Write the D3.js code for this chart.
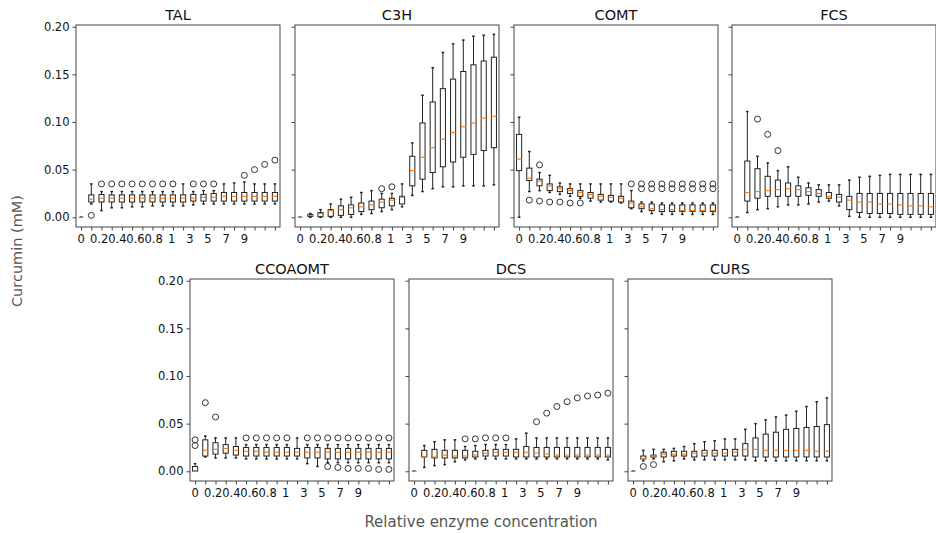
<!DOCTYPE html>
<html>
<head>
<meta charset="utf-8">
<script src="https://cdn.jsdelivr.net/npm/d3@7"></script>
<style>
  body { margin: 0; background: #fff; }
  text { font-family: "DejaVu Sans", sans-serif; }
</style>
</head>
<body>
<div id="root"></div>
<script>
// categories (relative enzyme concentration) and shown tick labels
const concentrations = [0, 0.1, 0.2, 0.3, 0.4, 0.5, 0.6, 0.7, 0.8, 0.9, 1, 2, 3, 4, 5, 6, 7, 8, 9, 10];
const tickLabels = ["0", "0.2", "0.4", "0.6", "0.8", "1", "3", "5", "7", "9"];
const yTicks = [0, 0.05, 0.10, 0.15, 0.20];

// box stats per concentration: [whisker low, q1, median, q3, whisker high]
const TAL = [
  [0,0,0,0,0], [0.014,0.016,0.019,0.0235,0.035], [0.007,0.016,0.020,0.024,0.027],
  [0.010,0.016,0.020,0.0235,0.027], [0.010,0.016,0.020,0.0235,0.027], [0.011,0.016,0.020,0.0235,0.027],
  [0.011,0.016,0.020,0.0235,0.027], [0.012,0.016,0.020,0.0235,0.027], [0.012,0.016,0.020,0.0235,0.027],
  [0.012,0.016,0.020,0.0235,0.027], [0.012,0.016,0.020,0.0235,0.035], [0.013,0.017,0.020,0.024,0.027],
  [0.014,0.017,0.021,0.024,0.028], [0.014,0.017,0.021,0.025,0.028], [0.014,0.017,0.022,0.026,0.035],
  [0.014,0.017,0.022,0.026,0.036], [0.014,0.017,0.022,0.026,0.037], [0.014,0.017,0.022,0.026,0.035],
  [0.014,0.017,0.022,0.026,0.035], [0.014,0.017,0.022,0.026,0.035]
];
const TAL_OUT = [[], [0.002], [0.035], [0.035], [0.035], [0.035], [0.035], [0.035], [0.035], [0.035],
  [], [0.035], [0.035], [0.035], [], [], [0.044], [0.050], [0.0555], [0.060]];

const C3H = [
  [0,0,0,0,0], [0.000,0.001,0.002,0.003,0.004], [0.000,0.0005,0.004,0.005,0.008],
  [0.000,0.001,0.007,0.008,0.014], [0.000,0.002,0.008,0.012,0.019], [0.000,0.003,0.010,0.013,0.021],
  [0.003,0.006,0.011,0.015,0.026], [0.004,0.008,0.013,0.017,0.028], [0.006,0.010,0.016,0.019,0.025],
  [0.008,0.012,0.018,0.020,0.025], [0.011,0.014,0.021,0.022,0.035], [0.023,0.033,0.049,0.064,0.078],
  [0.027,0.040,0.063,0.099,0.128], [0.030,0.047,0.073,0.121,0.157], [0.032,0.053,0.082,0.135,0.173],
  [0.032,0.058,0.089,0.145,0.182], [0.033,0.063,0.095,0.153,0.186], [0.033,0.066,0.099,0.160,0.190],
  [0.033,0.070,0.104,0.164,0.191], [0.034,0.073,0.106,0.168,0.192]
];
const C3H_OUT = [[], [], [], [], [], [], [], [], [0.030], [0.032], [], [], [], [], [], [], [], [], [], []];

const COMT = [
  [0.000,0.049,0.061,0.087,0.105], [0.027,0.0386,0.041,0.0516,0.069], [0.028,0.033,0.038,0.040,0.047],
  [0.026,0.028,0.033,0.035,0.044], [0.024,0.027,0.030,0.032,0.036], [0.022,0.025,0.028,0.030,0.035],
  [0.020,0.022,0.026,0.028,0.035], [0.017,0.020,0.024,0.026,0.035], [0.016,0.018,0.022,0.024,0.035],
  [0.016,0.017,0.021,0.023,0.035], [0.015,0.016,0.020,0.022,0.035], [0.009,0.010,0.015,0.017,0.028],
  [0.006,0.009,0.011,0.014,0.016], [0.004,0.007,0.009,0.014,0.016], [0.003,0.006,0.008,0.013,0.015],
  [0.003,0.006,0.008,0.013,0.015], [0.003,0.006,0.007,0.013,0.015], [0.003,0.006,0.007,0.013,0.015],
  [0.003,0.006,0.007,0.013,0.015], [0.003,0.006,0.007,0.013,0.015]
];
const COMT_OUT = [[], [0.018], [0.055, 0.017], [0.016], [0.016], [0.015], [0.015], [], [], [], [],
  [0.035], [0.030, 0.035], [0.030, 0.035], [0.030, 0.035], [0.030, 0.035], [0.030, 0.035],
  [0.030, 0.035], [0.030, 0.035], [0.030, 0.035]];

const FCS = [
  [0,0,0,0,0], [0.005,0.017,0.026,0.059,0.111], [0.008,0.020,0.027,0.051,0.064],
  [0.009,0.022,0.028,0.043,0.057], [0.011,0.022,0.029,0.039,0.049], [0.013,0.022,0.030,0.036,0.053],
  [0.013,0.022,0.029,0.033,0.042], [0.014,0.023,0.027,0.031,0.036], [0.016,0.022,0.025,0.029,0.034],
  [0.017,0.020,0.022,0.026,0.034], [0.012,0.016,0.021,0.024,0.034], [0.001,0.008,0.018,0.022,0.039],
  [0.000,0.005,0.016,0.025,0.042], [0.000,0.004,0.016,0.025,0.043], [0.000,0.004,0.014,0.025,0.044],
  [0.000,0.004,0.014,0.025,0.045], [0.000,0.003,0.013,0.025,0.045], [0.000,0.003,0.012,0.025,0.045],
  [0.000,0.003,0.012,0.025,0.045], [0.000,0.003,0.011,0.025,0.045]
];
const FCS_OUT = [[], [], [0.103], [0.087], [0.070], [], [], [], [], [], [], [], [], [], [], [], [], [], [], []];

const CCOAOMT = [
  [0.000,0.000,0.000,0.005,0.008], [0.015,0.016,0.022,0.033,0.037], [0.014,0.018,0.023,0.030,0.035],
  [0.014,0.019,0.024,0.028,0.035], [0.014,0.017,0.022,0.026,0.035], [0.013,0.016,0.021,0.025,0.028],
  [0.013,0.016,0.021,0.025,0.028], [0.013,0.016,0.020,0.025,0.028], [0.013,0.016,0.020,0.025,0.028],
  [0.013,0.016,0.020,0.025,0.028], [0.013,0.016,0.020,0.024,0.035], [0.008,0.014,0.020,0.025,0.028],
  [0.005,0.014,0.020,0.025,0.028], [0.009,0.013,0.020,0.024,0.028], [0.009,0.013,0.020,0.024,0.028],
  [0.009,0.013,0.020,0.024,0.028], [0.009,0.013,0.020,0.024,0.028], [0.009,0.013,0.020,0.024,0.028],
  [0.009,0.013,0.020,0.024,0.028], [0.009,0.013,0.020,0.024,0.028]
];
const CCOAOMT_OUT = [[0.027, 0.033], [0.072], [0.057], [], [], [0.035], [0.035], [0.035], [0.035], [0.035],
  [], [0.035], [0.035], [0.035, 0.005], [0.035, 0.004], [0.035, 0.003], [0.035, 0.003],
  [0.035, 0.003], [0.035, 0.002], [0.035, 0.002]];

const DCS = [
  [0,0,0,0,0], [0.004,0.015,0.015,0.022,0.027], [0.006,0.014,0.015,0.023,0.031],
  [0.007,0.014,0.017,0.022,0.033], [0.010,0.014,0.016,0.022,0.033], [0.012,0.014,0.016,0.022,0.026],
  [0.013,0.015,0.017,0.021,0.027], [0.013,0.016,0.019,0.022,0.028], [0.013,0.016,0.020,0.023,0.028],
  [0.013,0.016,0.020,0.023,0.028], [0.013,0.015,0.020,0.023,0.034], [0.013,0.015,0.020,0.026,0.040],
  [0.013,0.015,0.019,0.025,0.035], [0.013,0.015,0.018,0.025,0.035], [0.013,0.015,0.017,0.025,0.035],
  [0.013,0.015,0.017,0.025,0.035], [0.013,0.015,0.017,0.025,0.035], [0.013,0.015,0.017,0.025,0.035],
  [0.013,0.015,0.017,0.025,0.035], [0.012,0.015,0.017,0.025,0.035]
];
const DCS_OUT = [[], [], [], [], [], [0.034], [0.034], [0.035], [0.035], [0.035], [], [],
  [0.052], [0.061], [0.068], [0.073], [0.077], [0.079], [0.080], [0.082]];

const CURS = [
  [0,0,0,0,0], [0.011,0.013,0.013,0.016,0.022], [0.013,0.015,0.016,0.017,0.023],
  [0.010,0.015,0.018,0.020,0.023], [0.011,0.016,0.018,0.021,0.024], [0.013,0.016,0.018,0.021,0.026],
  [0.012,0.015,0.019,0.021,0.029], [0.012,0.016,0.019,0.022,0.031], [0.012,0.016,0.019,0.022,0.032],
  [0.012,0.016,0.019,0.023,0.034], [0.012,0.016,0.020,0.023,0.034], [0.012,0.016,0.023,0.029,0.044],
  [0.011,0.015,0.023,0.035,0.050], [0.011,0.015,0.022,0.039,0.054], [0.011,0.015,0.022,0.041,0.057],
  [0.011,0.015,0.022,0.044,0.059], [0.011,0.015,0.022,0.045,0.063], [0.011,0.015,0.022,0.046,0.068],
  [0.011,0.015,0.021,0.047,0.073], [0.011,0.015,0.021,0.049,0.077]
];
const CURS_OUT = [[], [0.005], [0.007], [], [], [], [], [], [], [], [], [], [], [], [], [], [], [], [], []];

// layout
const W = 936, H = 534;
const pw = 204, ph = 202;
const panels = [
  {name: "TAL", stats: TAL, out: TAL_OUT, left: 76, top: 25, yLabels: true},
  {name: "C3H", stats: C3H, out: C3H_OUT, left: 295, top: 25, yLabels: false},
  {name: "COMT", stats: COMT, out: COMT_OUT, left: 514, top: 25, yLabels: false},
  {name: "FCS", stats: FCS, out: FCS_OUT, left: 732, top: 25, yLabels: false},
  {name: "CCOAOMT", stats: CCOAOMT, out: CCOAOMT_OUT, left: 190, top: 279, yLabels: true},
  {name: "DCS", stats: DCS, out: DCS_OUT, left: 409, top: 279, yLabels: false},
  {name: "CURS", stats: CURS, out: CURS_OUT, left: 628, top: 279, yLabels: false}
];

const svg = d3.select("#root").append("svg")
    .attr("width", W)
    .attr("height", H);

// scales (same for every panel)
const x = d3.scaleLinear().domain([0.5, concentrations.length + 0.5]).range([0, pw]);
const y = d3.scaleLinear().domain([-0.0102, 0.2018]).range([ph, 0]);
// tick labels are spread evenly from the first box to box 17
const xLab = d3.scaleLinear().domain([0, tickLabels.length - 1]).range([x(1), x(17)]);
const boxW = x(1.25) - x(0.75);
const capW = boxW / 2;

panels.forEach((p) => {
    let g = svg.append("g")
        .attr("transform", "translate(" + p.left + "," + p.top + ")");

    // title
    g.append("text")
        .attr("x", pw / 2).attr("y", -5)
        .attr("text-anchor", "middle")
        .style("font-size", "14.5px")
        .attr("fill", "#111")
        .text(p.name);

    // y axis
    let yAxis = d3.axisLeft(y).tickValues(yTicks).tickSize(3.5).tickPadding(3)
        .tickFormat(p.yLabels ? d3.format(".2f") : "");
    let ya = g.append("g").call(yAxis);
    ya.select(".domain").remove();
    ya.selectAll("line").attr("stroke", "#444");
    ya.selectAll("text").style("font-size", "11.5px").attr("fill", "#111");

    // x axis ticks
    let xAxis = d3.axisBottom(x).tickValues(d3.range(1, concentrations.length + 1)).tickSize(3.5).tickFormat("");
    let xa = g.append("g").attr("transform", "translate(0," + ph + ")").call(xAxis);
    xa.select(".domain").remove();
    xa.selectAll("line").attr("stroke", "#444");

    g.append("g").selectAll("text")
        .data(tickLabels)
        .enter().append("text")
        .attr("x", (d, i) => xLab(i))
        .attr("y", ph + 16)
        .attr("text-anchor", "middle")
        .style("font-size", "11.5px")
        .attr("fill", "#111")
        .text((d) => d);

    // boxes
    let boxes = g.selectAll(".box")
        .data(p.stats)
        .enter().append("g")
        .attr("class", "box")
        .attr("transform", (d, i) => "translate(" + x(i + 1) + ",0)");

    boxes.append("line")
        .attr("y1", (d) => y(d[0])).attr("y2", (d) => y(d[1]))
        .attr("stroke", "#222");
    boxes.append("line")
        .attr("y1", (d) => y(d[3])).attr("y2", (d) => y(d[4]))
        .attr("stroke", "#222");
    boxes.append("line")
        .attr("x1", -capW / 2).attr("x2", capW / 2)
        .attr("y1", (d) => y(d[0])).attr("y2", (d) => y(d[0]))
        .attr("stroke", "#222").attr("stroke-width", 1.5);
    boxes.append("line")
        .attr("x1", -capW / 2).attr("x2", capW / 2)
        .attr("y1", (d) => y(d[4])).attr("y2", (d) => y(d[4]))
        .attr("stroke", "#222").attr("stroke-width", 1.5);
    boxes.append("rect")
        .attr("x", -boxW / 2).attr("width", boxW)
        .attr("y", (d) => y(d[3]))
        .attr("height", (d) => y(d[1]) - y(d[3]))
        .attr("fill", "none")
        .attr("stroke", "#222");
    boxes.append("line")
        .attr("x1", -boxW / 2).attr("x2", boxW / 2)
        .attr("y1", (d) => y(d[2])).attr("y2", (d) => y(d[2]))
        .attr("stroke", "#ff7f0e").attr("stroke-width", 1.2);

    // outliers
    p.out.forEach((vals, i) => {
        g.selectAll(null)
            .data(vals)
            .enter().append("circle")
            .attr("cx", x(i + 1))
            .attr("cy", (d) => y(d))
            .attr("r", 3)
            .attr("fill", "none")
            .attr("stroke", "#333");
    });

    // frame
    g.append("rect")
        .attr("width", pw).attr("height", ph)
        .attr("fill", "none")
        .attr("stroke", "#444");
});

// shared axis titles
svg.append("text")
    .attr("transform", "translate(22,251)rotate(-90)")
    .attr("text-anchor", "middle")
    .style("font-size", "14.5px")
    .attr("fill", "#555")
    .text("Curcumin (mM)");

svg.append("text")
    .attr("x", 481).attr("y", 527)
    .attr("text-anchor", "middle")
    .style("font-size", "15px")
    .attr("fill", "#555")
    .text("Relative enzyme concentration");
</script>
</body>
</html>
